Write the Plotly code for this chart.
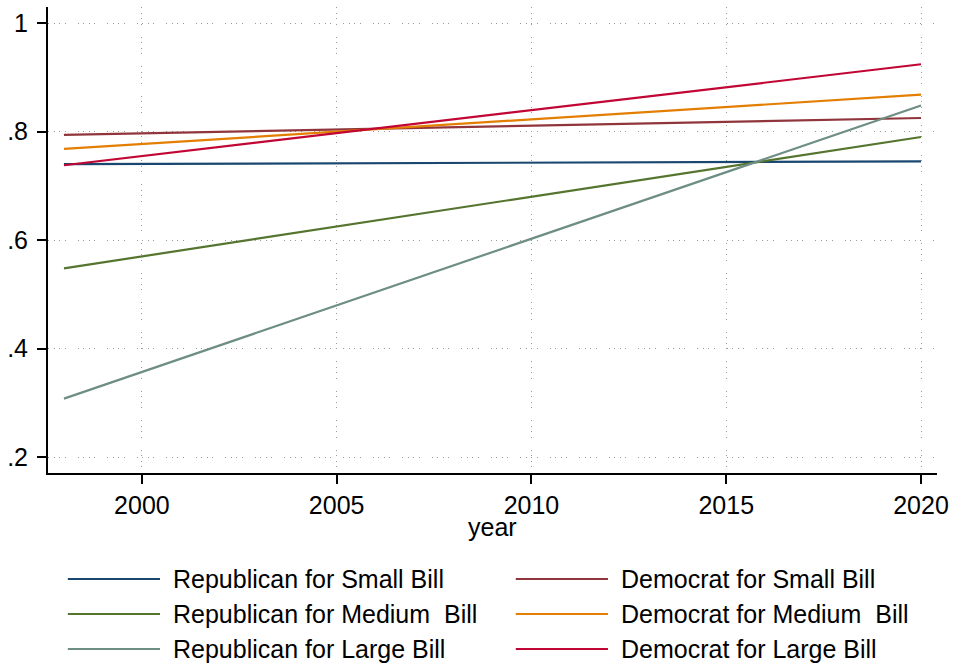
import plotly.graph_objects as go

# Fitted shares at the start and end of the period
years = [1998, 2020]
rep_small = [0.740, 0.745]
dem_small = [0.794, 0.825]
rep_medium = [0.548, 0.790]
dem_medium = [0.768, 0.868]
rep_large = [0.308, 0.848]
dem_large = [0.738, 0.924]

# Legend layout is row-major: (Rep, Dem) per row
series_names = [
    "Republican for Small Bill", "Democrat for Small Bill",
    "Republican for Medium  Bill", "Democrat for Medium  Bill",
    "Republican for Large Bill", "Democrat for Large Bill",
]
series_values = [rep_small, dem_small, rep_medium, dem_medium, rep_large, dem_large]
series_colors = ["#1a476f", "#90353b", "#55752f", "#e37e00", "#6e8e84", "#c10534"]

x_ticks = [2000, 2005, 2010, 2015, 2020]
y_ticks = [0.2, 0.4, 0.6, 0.8, 1.0]
y_tick_labels = [".2", ".4", ".6", ".8", "1"]
x_title = "year"

FONT = "Liberation Sans, Arial, sans-serif"
FS = 25
W, H = 956, 666
ML, MR, MT, MB = 45, 14, 7, 193
PW, PH = W - ML - MR, H - MT - MB

fig = go.Figure()
for name, vals, col in zip(series_names, series_values, series_colors):
    fig.add_trace(go.Scatter(x=years, y=vals, mode="lines", name=name,
                             line=dict(color=col, width=2.2), showlegend=False))

grid_dash = "1px,4.5px,1px,4.5px,1px,4.5px,1px,12px"

fig.update_layout(
    width=W, height=H,
    margin=dict(l=ML, r=MR, t=MT, b=MB, pad=0),
    paper_bgcolor="white", plot_bgcolor="white",
    font=dict(family=FONT, size=FS, color="black"),
    xaxis=dict(
        range=[1997.59, 2020.41], tickvals=x_ticks,
        ticks="outside", ticklen=9, tickwidth=2, tickcolor="black",
        showline=True, linecolor="black", linewidth=2, mirror=False,
        showgrid=True, gridcolor="#9a9a9a", gridwidth=1, griddash=grid_dash,
        zeroline=False, ticklabelstandoff=0,
    ),
    yaxis=dict(
        range=[0.171, 1.0295], tickvals=y_ticks, ticktext=y_tick_labels,
        ticks="outside", ticklen=9, tickwidth=2, tickcolor="black",
        showline=True, linecolor="black", linewidth=2, mirror=False,
        showgrid=True, gridcolor="#9a9a9a", gridwidth=1, griddash=grid_dash,
        zeroline=False, ticklabelstandoff=4,
    ),
)


def px_to_paper_x(px):
    return (px - ML) / PW


def px_to_paper_y(py):
    return (H - MB - py) / PH


# x-axis title, centred under the plot
fig.add_annotation(xref="paper", yref="paper", x=0.5, y=px_to_paper_y(527),
                   xanchor="center", yanchor="middle", showarrow=False,
                   text=x_title, font=dict(size=FS, color="black"))

# Two-column legend below the plot
col_line_x = [65, 517]
line_len = 93
text_gap = 11
row_y = [579, 614, 649]
for i, (name, col) in enumerate(zip(series_names, series_colors)):
    r, c = divmod(i, 2)
    x0 = col_line_x[c]
    y = row_y[r]
    fig.add_shape(type="line", xref="paper", yref="paper",
                  x0=px_to_paper_x(x0), x1=px_to_paper_x(x0 + line_len),
                  y0=px_to_paper_y(y), y1=px_to_paper_y(y),
                  line=dict(color=col, width=2))
    fig.add_annotation(xref="paper", yref="paper",
                       x=px_to_paper_x(x0 + line_len + text_gap), y=px_to_paper_y(y),
                       xanchor="left", yanchor="middle", showarrow=False,
                       text=name, font=dict(size=FS, color="black"))

fig.write_html("out.html")
